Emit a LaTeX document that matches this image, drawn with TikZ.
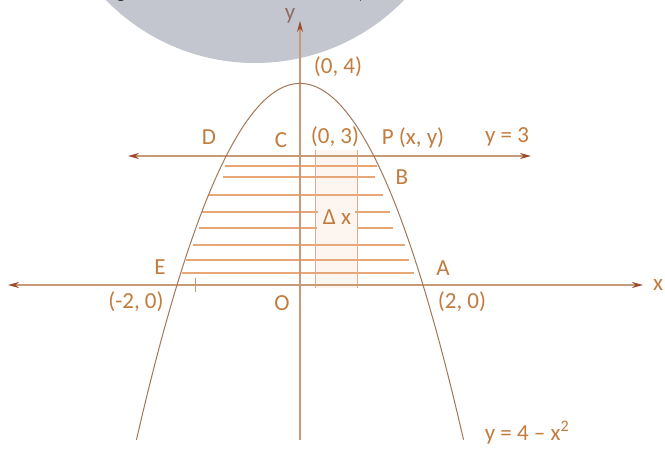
\documentclass[tikz,border=0pt]{standalone}
\usepackage{fontspec}
\setmainfont{Carlito}
\usetikzlibrary{arrows.meta}
\definecolor{circfill}{HTML}{C3C6CE}
\definecolor{axiscol}{HTML}{C79A76}
\definecolor{tipcol}{HTML}{9B4A2C}
\definecolor{curvecol}{HTML}{A4775A}
\definecolor{hatchcol}{HTML}{E6A676}
\definecolor{labcol}{HTML}{C27C3E}
\definecolor{stripfill}{HTML}{FDF5EF}
\definecolor{stripcol}{HTML}{E4AA8C}
\definecolor{ylabcol}{HTML}{8E6E64}
\tikzset{
  axisline/.style={draw=axiscol, line width=1.6pt, -{Stealth[length=11pt,width=6pt,color=tipcol]}},
  bothline/.style={draw=axiscol, line width=1.6pt, {Stealth[length=11pt,width=6pt,color=tipcol]}-{Stealth[length=11pt,width=6pt,color=tipcol]}},
  curve/.style={draw=curvecol, line width=1pt},
  hatch/.style={draw=hatchcol, line width=1.3pt},
  stripline/.style={draw=stripcol, line width=1pt},
  lab/.style={text=labcol, font=\fontsize{23}{27}\selectfont, inner sep=0pt},
  toptext/.style={text=black, font=\fontsize{22}{26}\selectfont, inner sep=0pt, anchor=base}
}
\begin{document}
\begin{tikzpicture}[x=1pt,y=-1pt]
\useasboundingbox (0,0) rectangle (665,449);
\fill[white] (0,0) rectangle (665,449);
% grey disc at the top
\fill[circfill] (255,-145) circle (208pt);
\node[toptext] (tg) at (121,-2.5) {g};
\node[toptext] (tc) at (361,-1.5) {,};
% strip
\fill[stripfill] (315,150) rectangle (357,288);
% hatch lines
\coordinate (h1a) at (225,166); \coordinate (h1b) at (377,166);
\coordinate (h2a) at (223,177); \coordinate (h2b) at (375,177);
\coordinate (h3a) at (208,195); \coordinate (h3b) at (383,195);
\coordinate (h4a) at (202,212); \coordinate (h4b) at (318,212);
\coordinate (h4c) at (355,212); \coordinate (h4d) at (390,212);
\coordinate (h5a) at (199,228); \coordinate (h5b) at (317,228);
\coordinate (h5c) at (358,228); \coordinate (h5d) at (393,228);
\coordinate (h6a) at (193,245); \coordinate (h6b) at (405,245);
\coordinate (h7a) at (186,260); \coordinate (h7b) at (409,260);
\coordinate (h8a) at (182,273); \coordinate (h8b) at (414,273);
\draw[hatch] (h1a) -- (h1b);
\draw[hatch] (h2a) -- (h2b);
\draw[hatch] (h3a) -- (h3b);
\draw[hatch] (h4a) -- (h4b);
\draw[hatch] (h4c) -- (h4d);
\draw[hatch] (h5a) -- (h5b);
\draw[hatch] (h5c) -- (h5d);
\draw[hatch] (h6a) -- (h6b);
\draw[hatch] (h7a) -- (h7b);
\draw[hatch] (h8a) -- (h8b);
% strip edges
\coordinate (s1t) at (315,150); \coordinate (s1b) at (315,288);
\coordinate (s2t) at (357,150); \coordinate (s2b) at (357,288);
\draw[stripline] (s1t) -- (s1b);
\draw[stripline] (s2t) -- (s2b);
% axes
\coordinate (xl) at (8,285); \coordinate (xr) at (643,285);
\coordinate (yb) at (300,440); \coordinate (yt) at (300,21);
\coordinate (ll) at (128,156); \coordinate (lr) at (531,156);
\draw[bothline] (xl) -- (xr);
\draw[bothline] (ll) -- (lr);
\draw[axisline, line width=1.4pt] (yb) -- (yt);
% tick on x-axis
\coordinate (tk1) at (195,278); \coordinate (tk2) at (195,292);
\draw[draw=axiscol, line width=1pt] (tk1) -- (tk2);
% parabola y = 4 - x^2
\draw[curve] plot[domain=-2.66:2.66, samples=100, smooth] ({300+61.5*\x},{285-50.4*(4-\x*\x)});
% labels
\node[lab, text=ylabcol] (ly) at (290,16) {y};
\node[lab] (l04) at (338,67) {(0, 4)};
\node[lab] (lD) at (209,137) {D};
\node[lab] (lC) at (281,140) {C};
\node[lab] (l03) at (335,137) {(0, 3)};
\node[lab] (lP) at (413,138) {P (x, y)};
\node[lab] (ly3) at (507,137) {y = 3};
\node[lab] (lB) at (402,177) {B};
\node[lab] (ldx) at (337,217) {Δ x};
\node[lab] (lE) at (160,267) {E};
\node[lab] (lA) at (443,268) {A};
\node[lab] (lx) at (658,285) {x};
\node[lab] (lm20) at (136,302) {(-2, 0)};
\node[lab] (lO) at (282,303) {O};
\node[lab] (l20) at (462,302) {(2, 0)};
\node[lab] (leq) at (527,433) {y = 4 – x\textsuperscript{2}};
\end{tikzpicture}
\end{document}
